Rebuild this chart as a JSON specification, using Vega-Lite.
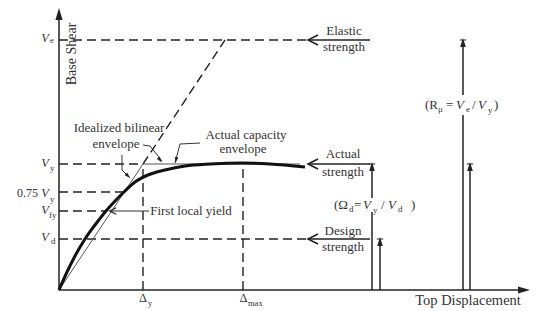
{
  "$schema": "https://vega.github.io/schema/vega-lite/v6.json",
  "width": 537,
  "height": 311,
  "padding": 0,
  "autosize": {"type": "fit", "contains": "padding"},
  "background": "white",
  "config": {"view": {"stroke": null}, "font": "Liberation Serif"},
  "datasets": {
    "dashed": [
      {"x": 0, "y": 250, "x2": 249, "y2": 250},
      {"x": 84, "y": 126, "x2": 166, "y2": 250},
      {"x": 0, "y": 126, "x2": 84, "y2": 126},
      {"x": 0, "y": 98, "x2": 66, "y2": 98},
      {"x": 0, "y": 79, "x2": 47, "y2": 79},
      {"x": 0, "y": 51, "x2": 249, "y2": 51},
      {"x": 84, "y": 0, "x2": 84, "y2": 126},
      {"x": 184, "y": 0, "x2": 184, "y2": 126}
    ],
    "bilinear": [
      {"x": 0, "y": 0, "x2": 84, "y2": 126},
      {"x": 84, "y": 126, "x2": 241, "y2": 126}
    ],
    "leaders": [
      {"x": 84, "y": 145, "x2": 91, "y2": 144},
      {"x": 91, "y": 144, "x2": 103, "y2": 129},
      {"x": 63, "y": 135, "x2": 63, "y2": 120},
      {"x": 63, "y": 120, "x2": 71, "y2": 112},
      {"x": 141, "y": 147, "x2": 121, "y2": 146},
      {"x": 121, "y": 146, "x2": 116, "y2": 127},
      {"x": 51, "y": 79, "x2": 90, "y2": 79}
    ],
    "solid": [
      {"x": 0, "y": 0, "x2": 0, "y2": 276},
      {"x": 0, "y": 0, "x2": 465, "y2": 0},
      {"x": 249, "y": 250, "x2": 311, "y2": 250},
      {"x": 249, "y": 126, "x2": 311, "y2": 126},
      {"x": 249, "y": 51, "x2": 311, "y2": 51},
      {"x": 313, "y": 0, "x2": 313, "y2": 78},
      {"x": 313, "y": 92, "x2": 313, "y2": 125},
      {"x": 321, "y": 0, "x2": 321, "y2": 50},
      {"x": 404, "y": 0, "x2": 404, "y2": 175},
      {"x": 404, "y": 195, "x2": 404, "y2": 249},
      {"x": 411, "y": 0, "x2": 411, "y2": 125}
    ],
    "curve": [
      {"x": 0, "y": 0}, {"x": 8, "y": 18}, {"x": 16, "y": 34}, {"x": 26, "y": 51},
      {"x": 36, "y": 65}, {"x": 47, "y": 79}, {"x": 57, "y": 90}, {"x": 66, "y": 99},
      {"x": 76, "y": 108}, {"x": 89, "y": 115}, {"x": 106, "y": 120}, {"x": 126, "y": 124},
      {"x": 151, "y": 126}, {"x": 184, "y": 127}, {"x": 211, "y": 126}, {"x": 246, "y": 123}
    ],
    "chevrons": [
      {"x": 254, "y": 250}, {"x": 254, "y": 126}, {"x": 254, "y": 51}
    ],
    "smallchevron": [{"x": 54, "y": 79}],
    "caps": [
      {"x": 313, "y": 122}, {"x": 321, "y": 47}, {"x": 404, "y": 246}, {"x": 411, "y": 122}
    ],
    "yarrow": [{"x": 0, "y": 276}],
    "xarrow": [{"x": 465, "y": 0}],
    "lead1": [{"x": 101, "y": 130}],
    "lead2": [{"x": 69, "y": 114}],
    "lead3": [{"x": 117, "y": 130}],
    "notes": [
      {"x": 285, "y": 259, "t": "Elastic"},
      {"x": 285, "y": 243, "t": "strength"},
      {"x": 284, "y": 136, "t": "Actual"},
      {"x": 284, "y": 118, "t": "strength"},
      {"x": 284, "y": 59, "t": "Design"},
      {"x": 284, "y": 43, "t": "strength"},
      {"x": 60, "y": 162, "t": "Idealized bilinear"},
      {"x": 57, "y": 146, "t": "envelope"},
      {"x": 187, "y": 155, "t": "Actual capacity"},
      {"x": 184, "y": 141, "t": "envelope"},
      {"x": 132, "y": 79, "t": "First local yield"}
    ],
    "xtitle": [{"x": 409, "y": -11, "t": "Top Displacement"}],
    "ytitle": [{"x": 13, "y": 236, "t": "Base Shear"}],
    "vlabels": [
      {"x": -14, "y": 252, "t": "V"},
      {"x": -14, "y": 127, "t": "V"},
      {"x": -14, "y": 97, "t": "V"},
      {"x": -14, "y": 80, "t": "V"},
      {"x": -14, "y": 53, "t": "V"}
    ],
    "vsubs": [
      {"x": -9, "y": 250, "t": "e"},
      {"x": -9, "y": 122, "t": "y"},
      {"x": -9, "y": 91, "t": "y"},
      {"x": -10, "y": 75, "t": "fy"},
      {"x": -8, "y": 49, "t": "d"}
    ],
    "factor": [{"x": -21, "y": 97, "t": "0.75"}],
    "deltas": [
      {"x": 84, "y": -8, "t": "Δ"},
      {"x": 184.5, "y": -8, "t": "Δ"}
    ],
    "deltasubs": [
      {"x": 89, "y": -13, "t": "y"},
      {"x": 189, "y": -13, "t": "max"}
    ],
    "formula": [
      {"x": 275, "y": 85, "t": "(Ω"},
      {"x": 295, "y": 85, "t": "="},
      {"x": 322, "y": 85, "t": "/"},
      {"x": 352, "y": 85, "t": ")"},
      {"x": 366, "y": 185, "t": "(R"},
      {"x": 387, "y": 185, "t": "="},
      {"x": 413, "y": 185, "t": "/"},
      {"x": 435, "y": 185, "t": ")"}
    ],
    "formulav": [
      {"x": 304, "y": 85, "t": "V"},
      {"x": 329, "y": 85, "t": "V"},
      {"x": 397, "y": 185, "t": "V"},
      {"x": 419, "y": 185, "t": "V"}
    ],
    "formulasubs": [
      {"x": 290, "y": 81, "t": "d"},
      {"x": 314, "y": 80, "t": "y"},
      {"x": 339, "y": 81, "t": "d"},
      {"x": 379, "y": 181, "t": "μ"},
      {"x": 407, "y": 181, "t": "e"},
      {"x": 429, "y": 180, "t": "y"}
    ]
  },
  "encoding": {
    "x": {"field": "x", "type": "quantitative", "scale": {"domain": [-59, 478], "nice": false, "zero": false}, "axis": null},
    "y": {"field": "y", "type": "quantitative", "scale": {"domain": [-21, 290], "nice": false, "zero": false}, "axis": null}
  },
  "layer": [
    {"data": {"name": "dashed"}, "mark": {"type": "rule", "strokeDash": [9, 5], "strokeWidth": 1.4, "color": "#222"}, "encoding": {"x2": {"field": "x2"}, "y2": {"field": "y2"}}},
    {"data": {"name": "bilinear"}, "mark": {"type": "rule", "strokeWidth": 1, "color": "#555"}, "encoding": {"x2": {"field": "x2"}, "y2": {"field": "y2"}}},
    {"data": {"name": "leaders"}, "mark": {"type": "rule", "strokeWidth": 1, "color": "#333"}, "encoding": {"x2": {"field": "x2"}, "y2": {"field": "y2"}}},
    {"data": {"name": "solid"}, "mark": {"type": "rule", "strokeWidth": 1.5, "color": "#222"}, "encoding": {"x2": {"field": "x2"}, "y2": {"field": "y2"}}},
    {"data": {"name": "curve"}, "mark": {"type": "line", "interpolate": "monotone", "strokeWidth": 3, "color": "#111"}},
    {"data": {"name": "chevrons"}, "mark": {"type": "point", "shape": "M1,-1L-1,0L1,1", "filled": false, "size": 100, "strokeWidth": 1.6, "color": "#222", "opacity": 1}},
    {"data": {"name": "smallchevron"}, "mark": {"type": "point", "shape": "M1,-1L-1,0L1,1", "filled": false, "size": 40, "strokeWidth": 1.2, "color": "#222", "opacity": 1}},
    {"data": {"name": "caps"}, "mark": {"type": "point", "shape": "M-0.8,-1L0.8,-1M0,-1L-0.5,0.6L0.5,0.6Z", "size": 64, "fill": "#222", "stroke": "#222", "strokeWidth": 1.2, "opacity": 1, "fillOpacity": 1}},
    {"data": {"name": "yarrow"}, "mark": {"type": "point", "shape": "M0,-1L-0.6,1L0.6,1Z", "size": 144, "filled": true, "color": "#222", "opacity": 1}},
    {"data": {"name": "xarrow"}, "mark": {"type": "point", "shape": "M1,0L-1,-0.6L-1,0.6Z", "size": 144, "filled": true, "color": "#222", "opacity": 1}},
    {"data": {"name": "lead1"}, "mark": {"type": "point", "shape": "M0,-1L-0.6,1L0.6,1Z", "size": 36, "angle": 143, "filled": true, "color": "#222", "opacity": 1}},
    {"data": {"name": "lead2"}, "mark": {"type": "point", "shape": "M0,-1L-0.6,1L0.6,1Z", "size": 36, "angle": 135, "filled": true, "color": "#222", "opacity": 1}},
    {"data": {"name": "lead3"}, "mark": {"type": "point", "shape": "M0,-1L-0.6,1L0.6,1Z", "size": 36, "angle": 195, "filled": true, "color": "#222", "opacity": 1}},
    {"data": {"name": "notes"}, "mark": {"type": "text", "fontSize": 13, "align": "center", "baseline": "middle", "color": "#333"}, "encoding": {"text": {"field": "t"}}},
    {"data": {"name": "xtitle"}, "mark": {"type": "text", "fontSize": 14.5, "align": "center", "baseline": "middle", "color": "#333"}, "encoding": {"text": {"field": "t"}}},
    {"data": {"name": "ytitle"}, "mark": {"type": "text", "fontSize": 14, "angle": 270, "align": "center", "baseline": "middle", "color": "#333"}, "encoding": {"text": {"field": "t"}}},
    {"data": {"name": "vlabels"}, "mark": {"type": "text", "fontSize": 12.5, "fontStyle": "italic", "align": "center", "baseline": "middle", "color": "#333"}, "encoding": {"text": {"field": "t"}}},
    {"data": {"name": "vsubs"}, "mark": {"type": "text", "fontSize": 9, "align": "left", "baseline": "middle", "color": "#333"}, "encoding": {"text": {"field": "t"}}},
    {"data": {"name": "factor"}, "mark": {"type": "text", "fontSize": 12, "align": "right", "baseline": "middle", "color": "#333"}, "encoding": {"text": {"field": "t"}}},
    {"data": {"name": "deltas"}, "mark": {"type": "text", "fontSize": 12.5, "align": "center", "baseline": "middle", "color": "#333"}, "encoding": {"text": {"field": "t"}}},
    {"data": {"name": "deltasubs"}, "mark": {"type": "text", "fontSize": 8.5, "align": "left", "baseline": "middle", "color": "#333"}, "encoding": {"text": {"field": "t"}}},
    {"data": {"name": "formula"}, "mark": {"type": "text", "fontSize": 13, "align": "left", "baseline": "middle", "color": "#333"}, "encoding": {"text": {"field": "t"}}},
    {"data": {"name": "formulav"}, "mark": {"type": "text", "fontSize": 13, "fontStyle": "italic", "align": "left", "baseline": "middle", "color": "#333"}, "encoding": {"text": {"field": "t"}}},
    {"data": {"name": "formulasubs"}, "mark": {"type": "text", "fontSize": 9, "align": "left", "baseline": "middle", "color": "#333"}, "encoding": {"text": {"field": "t"}}}
  ]
}
